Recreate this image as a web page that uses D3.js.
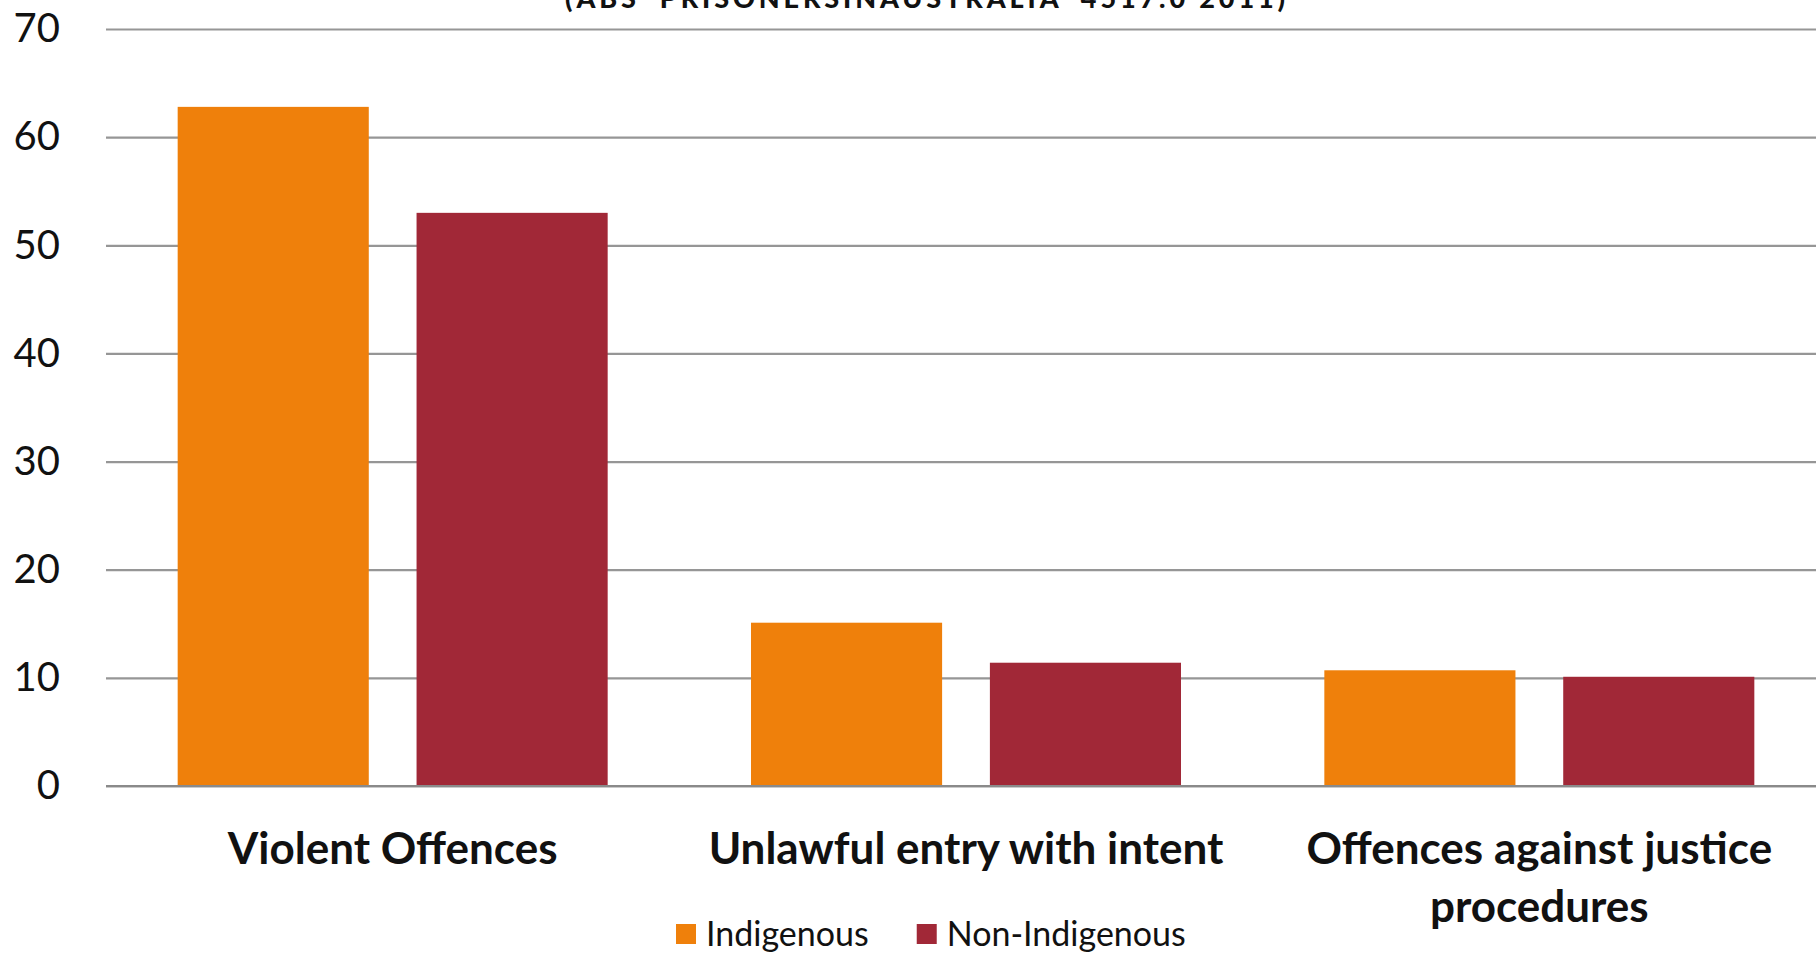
<!DOCTYPE html>
<html>
<head>
<meta charset="utf-8">
<script src="https://cdn.jsdelivr.net/npm/d3@7"></script>
<style>
  html, body { margin: 0; padding: 0; background: #fff; overflow: hidden; }
  svg { display: block; }
</style>
</head>
<body>
<svg id="chart" width="1816" height="953"></svg>
<script>
// Offence categories and the two population series (percent of prisoners)
const categories = ["Violent Offences", "Unlawful entry with intent", "Offences against justice procedures"];
const categoryLines = [["Violent Offences"], ["Unlawful entry with intent"], ["Offences against justice", "procedures"]];
const seriesNames = ["Indigenous", "Non-Indigenous"];
const indigenous = [62.8, 15.1, 10.7];
const nonIndigenous = [53.0, 11.4, 10.1];
const yTicks = [0, 10, 20, 30, 40, 50, 60, 70];
const titleText = "(ABS 'PRISONERSINAUSTRALIA' 4517.0 2011)";

const colors = { "Indigenous": "#EF800B", "Non-Indigenous": "#A12837" };
const FONT = "Lato, 'Open Sans', sans-serif";

const svg = d3.select("#chart");
const margin = { left: 106, top: 29, bottom: 786 };
const plotRight = 1826;

const x0 = d3.scaleBand().domain(categories).range([margin.left, plotRight]).paddingInner(0).paddingOuter(0);
const x1 = d3.scaleBand().domain(seriesNames).range([0, x0.bandwidth()]).paddingInner(0.2).paddingOuter(0.3);
const y = d3.scaleLinear().domain([0, 70]).range([margin.bottom, margin.top]);

const rows = categories.map((c, i) => ({ category: c, values: [
  { key: "Indigenous", value: indigenous[i] },
  { key: "Non-Indigenous", value: nonIndigenous[i] }
]}));

// Title (only its lower part falls inside the canvas)
svg.append("text")
  .attr("x", 565).attr("y", 8)
  .attr("textLength", 720).attr("lengthAdjust", "spacing")
  .attr("font-family", FONT).attr("font-size", 27).attr("font-weight", 900)
  .attr("fill", "#111")
  .text(titleText);

// Horizontal gridlines
const yAxis = d3.axisLeft(y).tickValues(yTicks).tickSize(-(plotRight - margin.left)).tickPadding(46).tickFormat(d3.format("d"));
const gy = svg.append("g").attr("transform", `translate(${margin.left},0)`).call(yAxis);
gy.select(".domain").remove();
gy.selectAll(".tick line").attr("stroke", "#969696").attr("stroke-width", 2.2);
gy.selectAll(".tick text")
  .attr("font-family", FONT).attr("font-size", 40).attr("fill", "#111");

// Bars
svg.append("g").selectAll("g").data(rows).join("g")
  .attr("transform", d => `translate(${x0(d.category)},0)`)
  .selectAll("rect").data(d => d.values).join("rect")
  .attr("x", d => x1(d.key))
  .attr("width", x1.bandwidth())
  .attr("y", d => y(d.value))
  .attr("height", d => y(0) - y(d.value))
  .attr("fill", d => colors[d.key]);

// Baseline
svg.append("line")
  .attr("x1", margin.left).attr("x2", plotRight)
  .attr("y1", y(0)).attr("y2", y(0))
  .attr("stroke", "#8a8a8a").attr("stroke-width", 2.2);

// Category labels
const catG = svg.append("g");
categories.forEach((c, i) => {
  const t = catG.append("text")
    .attr("x", x0(c) + x0.bandwidth() / 2)
    .attr("y", 864)
    .attr("text-anchor", "middle")
    .attr("font-family", FONT).attr("font-size", 44).attr("font-weight", 700)
    .attr("fill", "#111");
  categoryLines[i].forEach((line, j) => {
    t.append("tspan").attr("x", x0(c) + x0.bandwidth() / 2).attr("dy", j === 0 ? 0 : 58).text(line);
  });
});

// Legend
const legend = svg.append("g").attr("transform", "translate(676,934)");
let lx = 0;
seriesNames.forEach(name => {
  const g = legend.append("g").attr("transform", `translate(${lx},0)`);
  g.append("rect").attr("x", 0).attr("y", -10).attr("width", 20).attr("height", 20).attr("fill", colors[name]);
  const t = g.append("text").attr("x", 30).attr("y", 0).attr("dy", "0.35em")
    .attr("font-family", FONT).attr("font-size", 34).attr("fill", "#111").text(name);
  lx += 30 + t.node().getComputedTextLength() + 48;
});
</script>
</body>
</html>
